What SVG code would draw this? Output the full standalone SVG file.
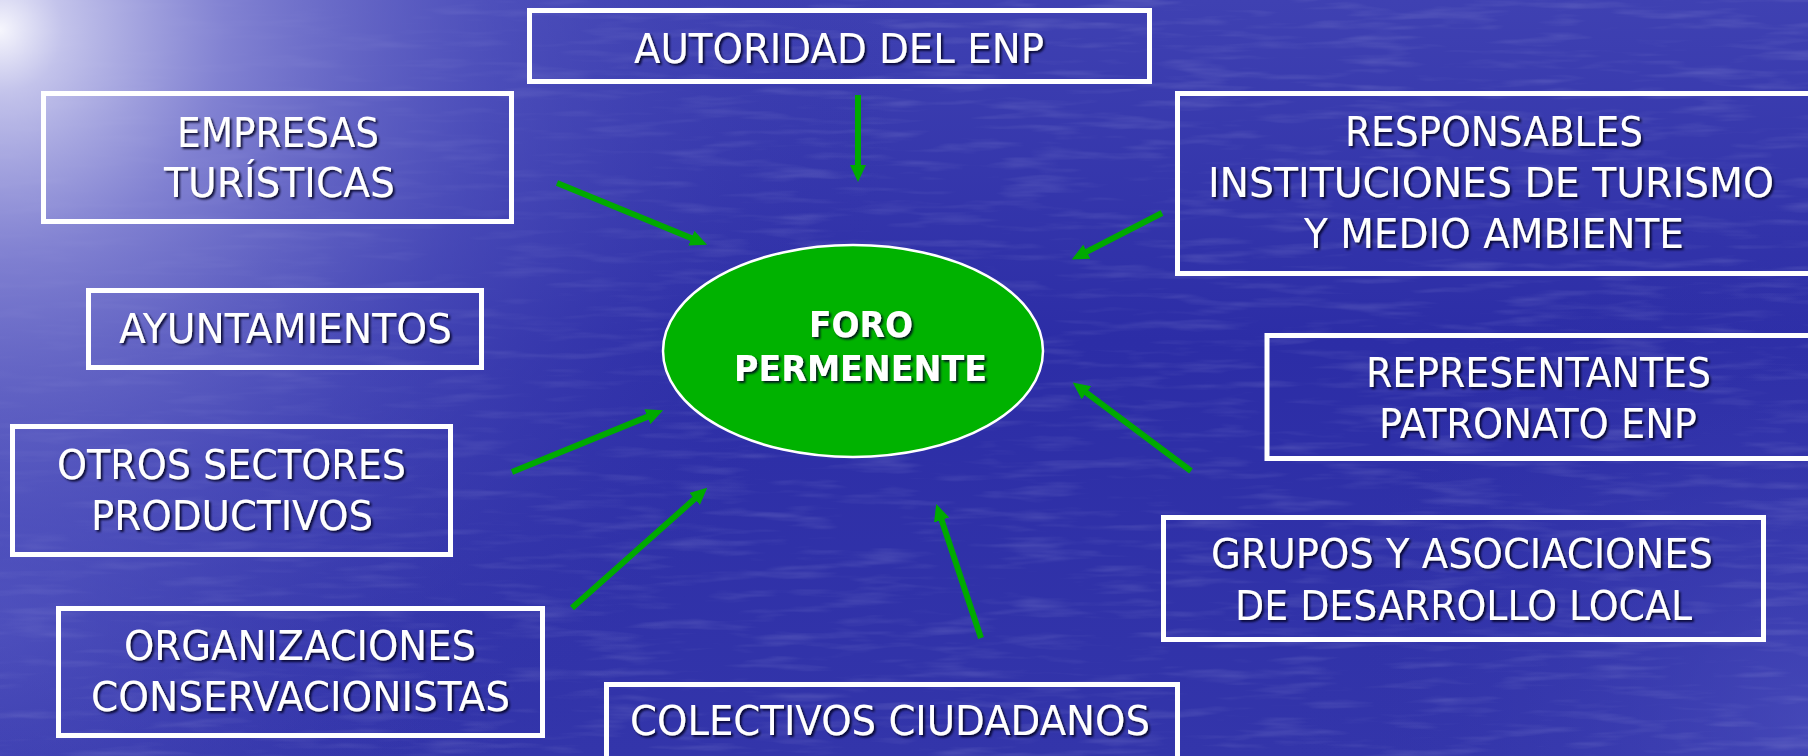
<svg xmlns="http://www.w3.org/2000/svg" width="1808" height="756" viewBox="0 0 1808 756">
<defs>
<style>
.box{fill:none;stroke:#ffffff;stroke-width:5}
.t{font-family:"DejaVu Sans","Liberation Sans",sans-serif;font-size:41px;fill:#ffffff}
.b{font-family:"DejaVu Sans","Liberation Sans",sans-serif;font-size:36px;font-weight:bold;fill:#ffffff}
.arr{stroke:#00aa00;stroke-width:6;fill:none;marker-end:url(#ah)}
</style>
<marker id="ah" markerUnits="userSpaceOnUse" markerWidth="17" markerHeight="16" refX="1" refY="8" orient="auto" viewBox="0 0 17 16">
<path d="M0,0 L17,8 L0,16 z" fill="#00aa00"/>
</marker>
<filter id="sh" x="-5%" y="-20%" width="110%" height="140%">
<feDropShadow dx="2" dy="2" stdDeviation="0.8" flood-color="#000020" flood-opacity="0.85"/>
</filter>
<radialGradient id="glare" cx="0" cy="30" r="900" gradientUnits="userSpaceOnUse">
<stop offset="0" stop-color="#f6f6fd" stop-opacity="1"/>
<stop offset="0.07" stop-color="#cacaee" stop-opacity="0.95"/>
<stop offset="0.25" stop-color="#8e8ed8" stop-opacity="0.85"/>
<stop offset="0.55" stop-color="#5c5ec4" stop-opacity="0.5"/>
<stop offset="1" stop-color="#2e2fa6" stop-opacity="0"/>
</radialGradient>
<linearGradient id="vert" x1="0" y1="0" x2="0" y2="1">
<stop offset="0" stop-color="#3f41b2"/>
<stop offset="0.45" stop-color="#2c2da6"/>
<stop offset="1" stop-color="#3335aa"/>
</linearGradient>
<radialGradient id="br" cx="1808" cy="720" r="520" gradientUnits="userSpaceOnUse">
<stop offset="0" stop-color="#5053c0" stop-opacity="0.6"/>
<stop offset="1" stop-color="#2e2fa6" stop-opacity="0"/>
</radialGradient>
<radialGradient id="bl" cx="0" cy="620" r="520" gradientUnits="userSpaceOnUse">
<stop offset="0" stop-color="#5a5cc6" stop-opacity="0.65"/>
<stop offset="1" stop-color="#2e2fa6" stop-opacity="0"/>
</radialGradient>
<filter id="water" x="0" y="0" width="100%" height="100%">
<feTurbulence type="fractalNoise" baseFrequency="0.012 0.1" numOctaves="3" seed="7"/>
<feColorMatrix type="matrix" values="0 0 0 0 0.85  0 0 0 0 0.85  0 0 0 0 1  0 0 0 1.4 -0.7"/>
</filter>
</defs>
<g id="background">
<rect width="1808" height="756" fill="url(#vert)"/>
<rect width="1808" height="756" fill="url(#bl)"/>
<rect width="1808" height="756" fill="url(#br)"/>
<rect width="1808" height="756" filter="url(#water)" opacity="0.22"/>
<rect width="1808" height="756" fill="url(#glare)"/>
</g>
<g id="connectors">
<line class="arr" x1="858" y1="95" x2="858" y2="166"/>
<line class="arr" x1="557" y1="183" x2="692.3" y2="238.6"/>
<line class="arr" x1="1162" y1="213" x2="1086" y2="252.2"/>
<line class="arr" x1="512" y1="472" x2="648.3" y2="416.4"/>
<line class="arr" x1="572" y1="608" x2="695.3" y2="498.3"/>
<line class="arr" x1="981" y1="638" x2="941.3" y2="519.1"/>
<line class="arr" x1="1191" y1="471" x2="1085.6" y2="392.2"/>
</g>
<g id="foro">
<ellipse cx="853" cy="351" rx="190" ry="106" fill="#00b200" stroke="#ffffff" stroke-width="2.5"/>
<g filter="url(#sh)">
<text class="b" x="809" y="337" textLength="104" lengthAdjust="spacingAndGlyphs">FORO</text>
<text class="b" x="734" y="381" textLength="253" lengthAdjust="spacingAndGlyphs">PERMENENTE</text>
</g>
</g>
<g id="autoridad">
<rect class="box" x="529.5" y="10.5" width="620" height="71"/>
<text class="t" x="634" y="63" textLength="410" lengthAdjust="spacingAndGlyphs" filter="url(#sh)">AUTORIDAD DEL ENP</text>
</g>
<g id="empresas">
<rect class="box" x="43.5" y="93.5" width="468" height="128"/>
<g filter="url(#sh)">
<text class="t" x="177" y="147" textLength="202" lengthAdjust="spacingAndGlyphs">EMPRESAS</text>
<text class="t" x="164" y="197" textLength="231" lengthAdjust="spacingAndGlyphs">TURÍSTICAS</text>
</g>
</g>
<g id="ayuntamientos">
<rect class="box" x="88.5" y="290.5" width="393" height="77"/>
<text class="t" x="119" y="343" textLength="333" lengthAdjust="spacingAndGlyphs" filter="url(#sh)">AYUNTAMIENTOS</text>
</g>
<g id="otros">
<rect class="box" x="12.5" y="426.5" width="438" height="128"/>
<g filter="url(#sh)">
<text class="t" x="57" y="479" textLength="349" lengthAdjust="spacingAndGlyphs">OTROS SECTORES</text>
<text class="t" x="91" y="530" textLength="282" lengthAdjust="spacingAndGlyphs">PRODUCTIVOS</text>
</g>
</g>
<g id="organizaciones">
<rect class="box" x="58.5" y="608.5" width="484" height="127"/>
<g filter="url(#sh)">
<text class="t" x="124" y="660" textLength="352" lengthAdjust="spacingAndGlyphs">ORGANIZACIONES</text>
<text class="t" x="91" y="711" textLength="419" lengthAdjust="spacingAndGlyphs">CONSERVACIONISTAS</text>
</g>
</g>
<g id="colectivos">
<rect class="box" x="606.5" y="684.5" width="571" height="100"/>
<text class="t" x="630" y="735" textLength="520" lengthAdjust="spacingAndGlyphs" filter="url(#sh)">COLECTIVOS CIUDADANOS</text>
</g>
<g id="responsables">
<rect class="box" x="1177.5" y="93.5" width="700" height="180"/>
<g filter="url(#sh)">
<text class="t" x="1345" y="146" textLength="298" lengthAdjust="spacingAndGlyphs">RESPONSABLES</text>
<text class="t" x="1208" y="197" textLength="566" lengthAdjust="spacingAndGlyphs">INSTITUCIONES DE TURISMO</text>
<text class="t" x="1304" y="248" textLength="380" lengthAdjust="spacingAndGlyphs">Y MEDIO AMBIENTE</text>
</g>
</g>
<g id="representantes">
<rect class="box" x="1267" y="335.5" width="600" height="123"/>
<g filter="url(#sh)">
<text class="t" x="1366" y="387" textLength="345" lengthAdjust="spacingAndGlyphs">REPRESENTANTES</text>
<text class="t" x="1379" y="438" textLength="318" lengthAdjust="spacingAndGlyphs">PATRONATO ENP</text>
</g>
</g>
<g id="grupos">
<rect class="box" x="1163.5" y="517.5" width="600" height="122"/>
<g filter="url(#sh)">
<text class="t" x="1211" y="568" textLength="502" lengthAdjust="spacingAndGlyphs">GRUPOS Y ASOCIACIONES</text>
<text class="t" x="1235" y="620" textLength="457" lengthAdjust="spacingAndGlyphs">DE DESARROLLO LOCAL</text>
</g>
</g>
</svg>
